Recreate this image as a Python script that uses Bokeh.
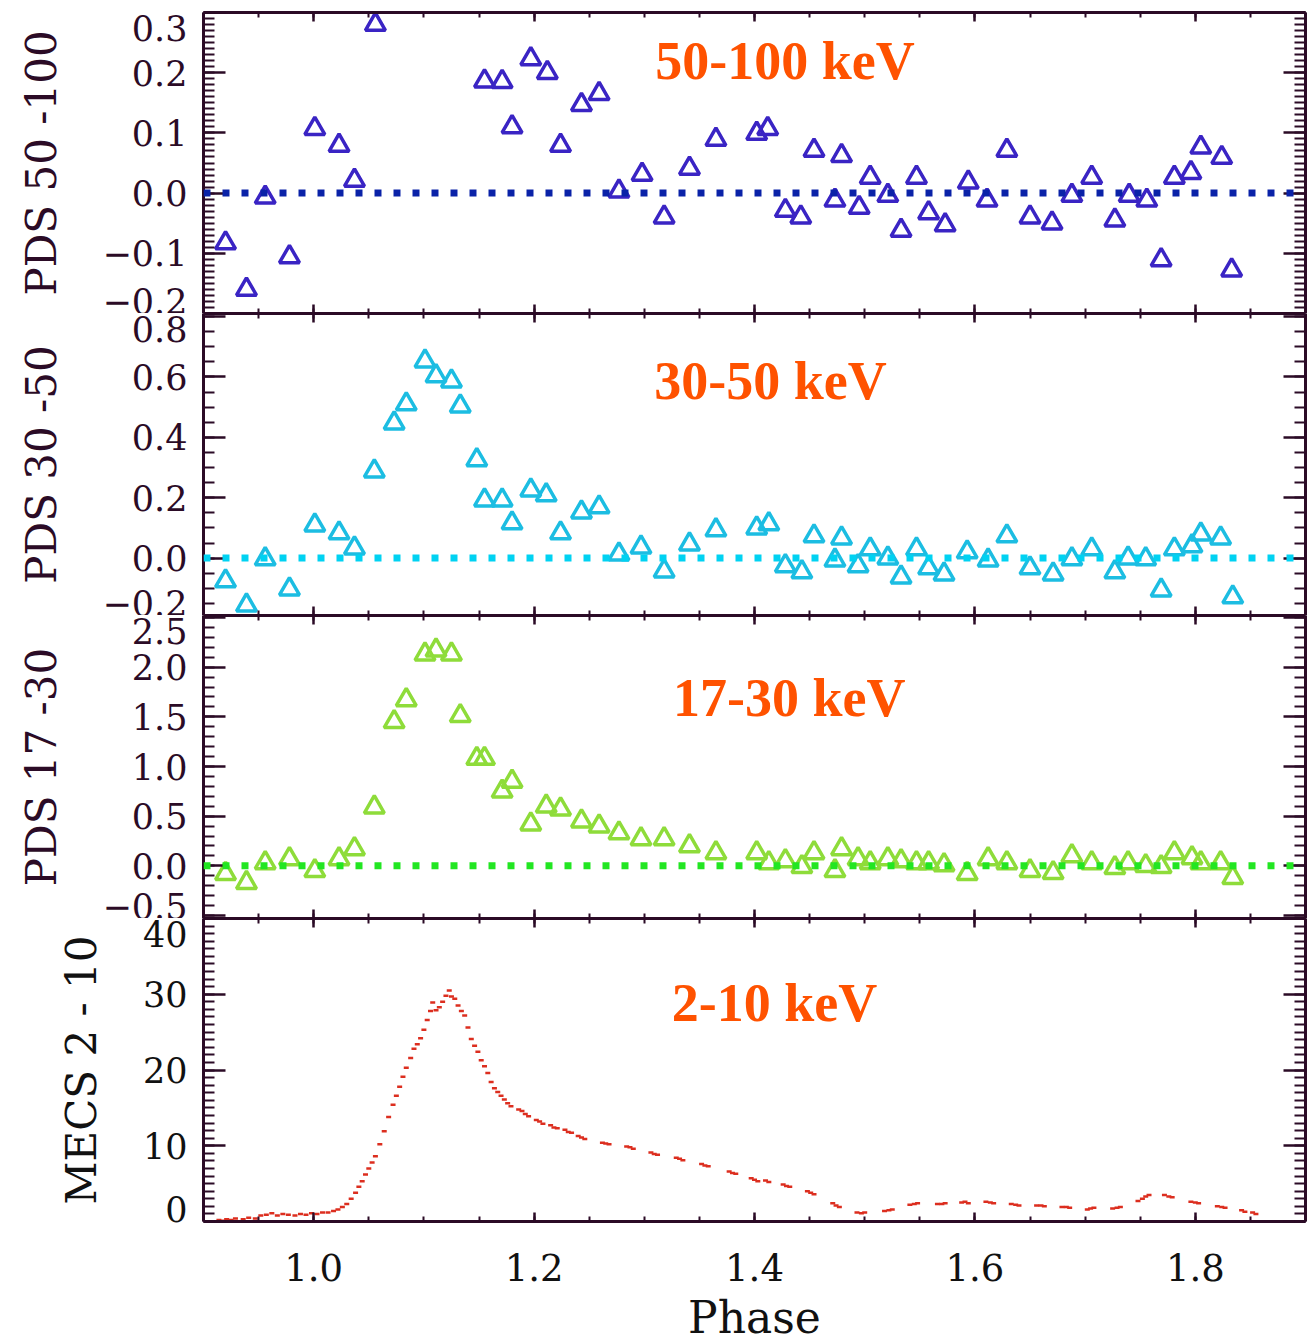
import numpy as np
from bokeh.plotting import figure
from bokeh.layouts import column
from bokeh.models import Range1d, LinearAxis, FixedTicker, Label, Span
from bokeh.embed import file_html
from bokeh.resources import INLINE

# ---------------- data ----------------
# PDS 50-100 keV (bins above the plotted range are not shown)
hard_phase = [0.920, 0.939, 0.956, 0.978, 1.001, 1.023, 1.037, 1.056,
              1.155, 1.171, 1.180, 1.197, 1.212, 1.224, 1.243, 1.259, 1.277, 1.298,
              1.318, 1.341, 1.365, 1.402, 1.412, 1.428, 1.442, 1.454, 1.473, 1.479,
              1.495, 1.505, 1.521, 1.533, 1.547, 1.558, 1.573, 1.594, 1.611, 1.629,
              1.650, 1.670, 1.688, 1.706, 1.727, 1.740, 1.756, 1.769, 1.781, 1.796,
              1.805, 1.824, 1.833]
hard_rate = [-0.083, -0.160, -0.007, -0.106, 0.107, 0.079, 0.021, 0.280,
             0.186, 0.185, 0.110, 0.223, 0.200, 0.079, 0.147, 0.165, 0.003, 0.031,
             -0.040, 0.041, 0.089, 0.099, 0.107, -0.029, -0.040, 0.071, -0.012, 0.062,
             -0.024, 0.026, -0.004, -0.062, 0.026, -0.033, -0.053, 0.018, -0.012, 0.071,
             -0.040, -0.050, -0.004, 0.026, -0.045, -0.004, -0.012, -0.111, 0.026, 0.034,
             0.076, 0.059, -0.128]

# PDS 30-50 keV and 17-30 keV share the same phase bins
pds_phase = [0.920, 0.939, 0.956, 0.978, 1.001, 1.023, 1.037, 1.055,
             1.073, 1.084, 1.101, 1.111, 1.125, 1.133, 1.148,
             1.155, 1.171, 1.180, 1.197, 1.211, 1.224, 1.243, 1.259, 1.277, 1.297,
             1.318, 1.341, 1.365, 1.402, 1.413, 1.428, 1.443, 1.454, 1.473, 1.479,
             1.494, 1.505, 1.521, 1.533, 1.547, 1.558, 1.572, 1.593, 1.612, 1.629,
             1.650, 1.671, 1.688, 1.706, 1.727, 1.739, 1.755, 1.769, 1.781, 1.797,
             1.805, 1.823, 1.834]
mid_rate = [-0.076, -0.156, -0.003, -0.103, 0.109, 0.083, 0.033, 0.288,
            0.447, 0.510, 0.652, 0.603, 0.586, 0.503, 0.325,
            0.192, 0.192, 0.116, 0.225, 0.209, 0.083, 0.152, 0.169, 0.013, 0.036,
            -0.043, 0.046, 0.093, 0.099, 0.113, -0.026, -0.046, 0.073, -0.007, 0.066,
            -0.026, 0.030, 0.000, -0.063, 0.030, -0.033, -0.053, 0.020, -0.007, 0.073,
            -0.033, -0.053, -0.003, 0.030, -0.046, 0.000, -0.003, -0.106, 0.030, 0.040,
            0.079, 0.066, -0.129]
soft_rate = [-0.08, -0.17, 0.03, 0.07, -0.05, 0.07, 0.17, 0.59,
             1.45, 1.67, 2.13, 2.17, 2.13, 1.51, 1.08,
             1.08, 0.75, 0.85, 0.42, 0.60, 0.57, 0.45, 0.40, 0.33, 0.27,
             0.27, 0.20, 0.13, 0.13, 0.03, 0.05, -0.01, 0.13, -0.05, 0.17,
             0.07, 0.03, 0.07, 0.05, 0.03, 0.03, 0.01, -0.08, 0.07, 0.03,
             -0.05, -0.07, 0.10, 0.03, -0.02, 0.03, 0.00, -0.01, 0.13, 0.08,
             0.03, 0.03, -0.12]

# MECS 2-10 keV light curve
mecs_phase = [0.914, 0.918, 0.921, 0.925, 0.929, 0.936, 0.941, 0.947, 0.952, 0.957,
              0.962, 0.967, 0.972, 0.977, 0.983, 0.988, 0.993, 0.998, 1.003, 1.008,
              1.013, 1.018,
              1.022, 1.026, 1.030, 1.034, 1.038, 1.041, 1.044, 1.047, 1.050, 1.053,
              1.056, 1.060, 1.064, 1.068, 1.072, 1.075, 1.078, 1.081, 1.084, 1.088,
              1.091, 1.094, 1.097, 1.100, 1.103, 1.106, 1.108,
              1.111, 1.114, 1.117, 1.120, 1.123, 1.125, 1.128, 1.131, 1.134, 1.137,
              1.140, 1.143, 1.146, 1.149, 1.152, 1.155, 1.158, 1.161, 1.164, 1.167,
              1.170, 1.173, 1.176, 1.179,
              1.186, 1.189, 1.192, 1.195, 1.202, 1.205, 1.208, 1.215, 1.218, 1.221,
              1.228, 1.231, 1.234, 1.240, 1.243, 1.246, 1.262, 1.265, 1.268,
              1.284, 1.287, 1.290, 1.306, 1.309, 1.312, 1.329, 1.332, 1.335,
              1.352, 1.355, 1.358, 1.377, 1.380, 1.383, 1.397, 1.400, 1.403,
              1.410, 1.413, 1.426, 1.429, 1.432, 1.448, 1.451, 1.454,
              1.471, 1.474, 1.477, 1.493, 1.497, 1.500, 1.518, 1.522, 1.525,
              1.541, 1.545, 1.548, 1.566, 1.570, 1.573, 1.588, 1.591, 1.594,
              1.610, 1.614, 1.617, 1.633, 1.637, 1.640, 1.656, 1.660, 1.663,
              1.679, 1.683, 1.686, 1.702, 1.705, 1.708, 1.725, 1.729, 1.732,
              1.748, 1.752, 1.755, 1.758, 1.772, 1.776, 1.779, 1.796, 1.800, 1.803,
              1.820, 1.824, 1.827, 1.842, 1.845, 1.852, 1.855]
mecs_rate = [0.2, 0.1, 0.3, 0.2, 0.4, 0.3, 0.5, 0.4, 0.8, 0.9,
             1.1, 0.8, 1.0, 0.9, 0.8, 1.0, 0.9, 1.1, 1.0, 1.2,
             1.2, 1.4,
             1.6, 1.9, 2.3, 3.0, 3.8, 4.6, 5.3, 6.2, 7.0, 7.8,
             8.6, 10.2, 11.9, 13.8, 15.4, 16.6, 17.8, 19.1, 20.3, 21.6,
             22.8, 23.4, 24.2, 25.3, 26.6, 27.8, 28.9,
             27.9, 28.3, 29.0, 29.8, 30.5, 29.7, 29.4, 28.5, 27.8, 27.2,
             25.6, 24.1, 23.2, 22.4, 21.3, 20.5, 19.6, 18.4, 17.6, 17.1,
             16.6, 16.1, 15.6, 15.2,
             14.8, 14.6, 14.2, 13.9, 13.4, 13.2, 12.9, 12.7, 12.4, 12.3,
             12.1, 11.8, 11.7, 11.3, 11.1, 10.9, 10.4, 10.3, 10.2,
             9.9, 9.8, 9.6, 9.1, 8.9, 8.8, 8.4, 8.3, 8.1,
             7.6, 7.4, 7.3, 6.6, 6.4, 6.3, 5.7, 5.5, 5.3,
             5.4, 5.2, 4.9, 4.7, 4.6, 4.0, 3.8, 3.6,
             2.4, 2.1, 1.9, 1.2, 1.1, 1.2, 1.4, 1.5, 1.6,
             2.2, 2.3, 2.4, 2.3, 2.3, 2.4, 2.5, 2.6, 2.4,
             2.6, 2.5, 2.4, 2.3, 2.2, 2.1, 2.1, 2.1, 2.0,
             1.9, 1.9, 1.8, 1.6, 1.7, 1.8, 1.7, 1.8, 1.9,
             2.7, 3.0, 3.3, 3.5, 3.5, 3.3, 3.2, 2.6, 2.5, 2.4,
             2.0, 1.9, 1.8, 1.5, 1.3, 1.2, 1.0]

band_names = ["50-100 keV", "30-50 keV", "17-30 keV", "2-10 keV"]
y_titles = ["PDS 50 -100", "PDS 30 -50", "PDS 17 -30", "MECS 2 - 10"]

x_ticks = [1.0, 1.2, 1.4, 1.6, 1.8]
x_tick_labels = ["1.0", "1.2", "1.4", "1.6", "1.8"]

hard_ticks = [-0.2, -0.1, 0.0, 0.1, 0.2, 0.3]
hard_tick_labels = ["\u22120.2", "\u22120.1", "0.0", "0.1", "0.2", "0.3"]
mid_ticks = [-0.2, 0.0, 0.2, 0.4, 0.6, 0.8]
mid_tick_labels = ["\u22120.2", "0.0", "0.2", "0.4", "0.6", "0.8"]
soft_ticks = [-0.5, 0.0, 0.5, 1.0, 1.5, 2.0, 2.5]
soft_tick_labels = ["\u22120.5", "0.0", "0.5", "1.0", "1.5", "2.0", "2.5"]
mecs_ticks = [0, 10, 20, 30, 40]
mecs_tick_labels = ["0", "10", "20", "30", "40"]

# ---------------- styling ----------------
AXIS_COL = "#2b0b26"
MECS_COL = "#111111"
BAND_COL = "#ff5200"
TICK_FONT = "DejaVu Serif"
TICK_SIZE = "35px"
FRAME_W = 1102
LEFT, RIGHT = 203, 3

X_RANGE = Range1d(0.9, 1.9)
x_minor = [round(v, 3) for v in np.arange(0.9, 1.9001, 0.05)]


def minor_list(lo, hi, step):
    n = int(round((hi - lo) / step))
    return [round(lo + i * step, 4) for i in range(n + 1)]


def make_panel(y0, y1, frame_h, top, bottom):
    p = figure(frame_width=FRAME_W, frame_height=frame_h,
               x_range=X_RANGE, y_range=Range1d(y0, y1),
               output_backend="svg", toolbar_location=None,
               x_axis_location=None, y_axis_location=None,
               min_border_left=LEFT, min_border_right=RIGHT,
               min_border_top=top, min_border_bottom=bottom,
               background_fill_color="white", border_fill_color="white")
    p.grid.visible = False
    p.outline_line_color = None
    return p


def style(ax, col, tin, min_in):
    ax.axis_line_color = col
    ax.axis_line_width = 3
    ax.major_tick_line_color = col
    ax.major_tick_line_width = 2.5
    ax.minor_tick_line_color = col
    ax.minor_tick_line_width = 2
    ax.major_tick_in = tin
    ax.major_tick_out = 0
    ax.minor_tick_in = min_in
    ax.minor_tick_out = 0


def hide_labels(ax, ticks):
    ax.major_label_overrides = {t: "" for t in ticks}
    ax.major_label_text_font_size = "0px"
    ax.major_label_standoff = 0


def add_frame(p, frame_h, yticks, ylabels, yminor, title, col, label_col,
              x_labels=False):
    xt = FixedTicker(ticks=x_ticks, minor_ticks=x_minor)
    yt = FixedTicker(ticks=yticks, minor_ticks=yminor)

    top = LinearAxis(ticker=xt)
    style(top, col, 9, 5)
    hide_labels(top, x_ticks)
    p.add_layout(top, "above")

    bot = LinearAxis(ticker=xt)
    style(bot, col, 9, 5)
    if x_labels:
        bot.major_label_overrides = dict(zip(x_ticks, x_tick_labels))
        bot.major_label_text_font = TICK_FONT
        bot.major_label_text_font_size = "37px"
        bot.major_label_text_color = label_col
        bot.major_label_standoff = 32
        bot.axis_label = "Phase"
        bot.axis_label_text_font = TICK_FONT
        bot.axis_label_text_font_style = "normal"
        bot.axis_label_text_font_size = "44px"
        bot.axis_label_text_color = label_col
        bot.axis_label_standoff = 8
    else:
        hide_labels(bot, x_ticks)
    p.add_layout(bot, "below")

    right = LinearAxis(ticker=yt)
    style(right, col, 22, 11)
    hide_labels(right, yticks)
    p.add_layout(right, "right")

    # tick marks on the left edge
    marks = LinearAxis(ticker=yt)
    style(marks, col, 22, 11)
    hide_labels(marks, yticks)
    p.add_layout(marks, "left")

    # value labels; the outermost ones are kept inside the panel height
    lo, hi = p.y_range.start, p.y_range.end
    per_px = (hi - lo) / frame_h
    pos = list(yticks)
    pos[0] = lo + 13 * per_px
    pos[-1] = hi - 15 * per_px
    labels = LinearAxis(ticker=FixedTicker(ticks=pos, minor_ticks=[]))
    labels.axis_line_color = None
    labels.major_tick_line_color = None
    labels.minor_tick_line_color = None
    labels.major_tick_in = 0
    labels.major_tick_out = 0
    labels.minor_tick_in = 0
    labels.minor_tick_out = 0
    labels.major_label_overrides = dict(zip(pos, ylabels))
    labels.major_label_text_font = TICK_FONT
    labels.major_label_text_font_size = TICK_SIZE
    labels.major_label_text_color = label_col
    labels.major_label_standoff = 16
    labels.axis_label = title
    labels.axis_label_text_font = TICK_FONT
    labels.axis_label_text_font_style = "normal"
    labels.axis_label_text_font_size = "42px"
    labels.axis_label_text_color = label_col
    labels.axis_label_standoff = 34
    p.add_layout(labels, "left")


def band_label(p, x, y, txt):
    p.add_layout(Label(x=x, y=y, text=txt, text_font="Liberation Serif",
                       text_font_style="bold", text_font_size="54px",
                       text_color=BAND_COL, text_baseline="middle",
                       text_align="left"))


def zero_line(p, col):
    p.add_layout(Span(location=0, dimension="width", line_color=col,
                      line_width=7, line_dash="7 12"))


# ---- panel 1: PDS 50-100 keV ----
p1 = make_panel(-0.2, 0.3, 301, 12, 0)
add_frame(p1, 301, hard_ticks, hard_tick_labels, minor_list(-0.2, 0.3, 0.01),
          y_titles[0], AXIS_COL, AXIS_COL)
zero_line(p1, "#0a22a8")
p1.scatter(hard_phase, hard_rate, marker="triangle", size=20,
           fill_color=None, line_color="#3a24c4", line_width=3.5)
band_label(p1, 1.310, 0.220, band_names[0])

# ---- panel 2: PDS 30-50 keV ----
p2 = make_panel(-0.19, 0.81, 302, 0, 0)
add_frame(p2, 302, mid_ticks, mid_tick_labels, minor_list(-0.2, 0.8, 0.05),
          y_titles[1], AXIS_COL, AXIS_COL)
zero_line(p2, "#00d2f2")
p2.scatter(pds_phase, mid_rate, marker="triangle", size=20,
           fill_color=None, line_color="#1cbde2", line_width=3.5)
band_label(p2, 1.309, 0.588, band_names[1])

# ---- panel 3: PDS 17-30 keV ----
p3 = make_panel(-0.53, 2.52, 303, 0, 0)
add_frame(p3, 303, soft_ticks, soft_tick_labels, minor_list(-0.5, 2.5, 0.1),
          y_titles[2], AXIS_COL, AXIS_COL)
zero_line(p3, "#22e622")
p3.scatter(pds_phase, soft_rate, marker="triangle", size=20,
           fill_color=None, line_color="#8edc3a", line_width=3.5)
band_label(p3, 1.326, 1.694, band_names[2])

# ---- panel 4: MECS 2-10 keV ----
p4 = make_panel(0, 40, 303, 0, 119)
add_frame(p4, 303, mecs_ticks, mecs_tick_labels, minor_list(0, 40, 1),
          y_titles[3], AXIS_COL, MECS_COL, x_labels=True)
p4.scatter(mecs_phase, mecs_rate, marker="dash", size=5,
           line_color="#dc2e1f", line_width=2.5)
band_label(p4, 1.325, 28.78, band_names[3])

layout = column(p1, p2, p3, p4, spacing=0)

with open("out.html", "w") as f:
    f.write(file_html(layout, INLINE))
